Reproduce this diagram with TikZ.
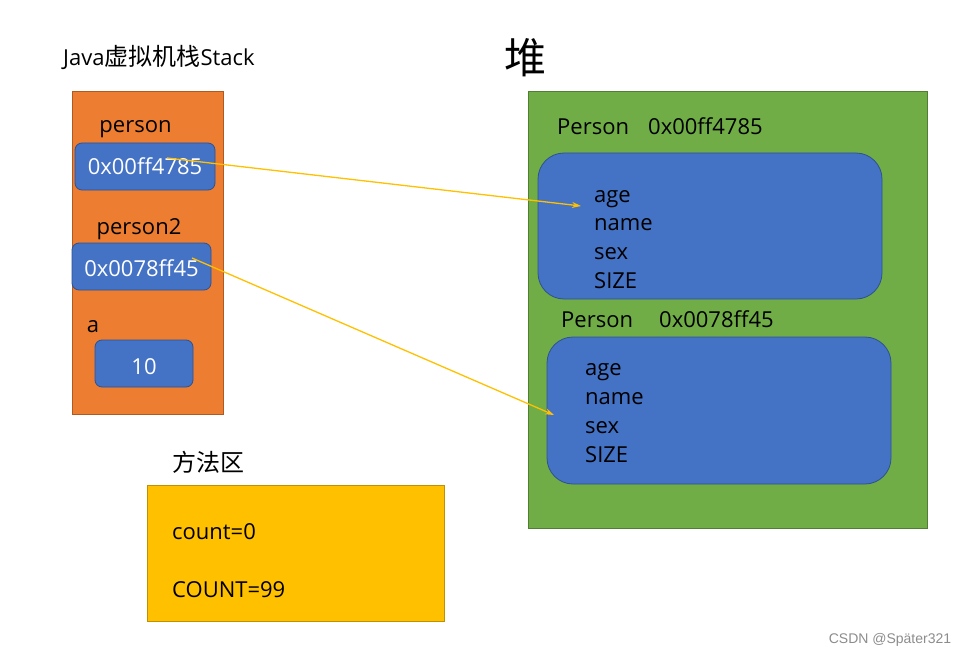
\documentclass[tikz,border=0pt]{standalone}
\usepackage{fontspec}
\setmainfont{Open Sans}
\newfontfamily\cjk{Noto Sans CJK SC}
\usetikzlibrary{arrows.meta,positioning}
\definecolor{stackorange}{HTML}{ED7D31}
\definecolor{stackedge}{HTML}{AE5A21}
\definecolor{cellblue}{HTML}{4472C4}
\definecolor{celledge}{HTML}{2F528F}
\definecolor{heapgreen}{HTML}{70AD47}
\definecolor{heapedge}{HTML}{507E32}
\definecolor{methodgold}{HTML}{FFC000}
\definecolor{methodedge}{HTML}{BF9000}
\tikzset{
  txt/.style={inner sep=0pt,anchor=base,font=\fontsize{22}{26}\selectfont},
  ltxt/.style={txt,anchor=base west},
  cell/.style={draw=celledge,fill=cellblue,rounded corners=7pt,line width=0.8pt},
  objbox/.style={draw=celledge,fill=cellblue,rounded corners=26pt,line width=0.8pt},
  ref/.style={draw=methodgold,line width=1.3pt,-{Stealth[length=9pt,width=6pt]}}
}
\begin{document}
\begin{tikzpicture}[x=1pt,y=-1pt]
  \useasboundingbox (0,0) rectangle (969,658);
  % stack
  \node[ltxt] (stacktitle) at (63,66) {Java{\fontsize{24}{26}\cjk 虚拟机栈}Stack};
  \draw[draw=stackedge,fill=stackorange,line width=0.8pt] (72,91) rectangle (223,414);
  \node[txt] (lperson) at (135.5,133) {person};
  \draw[cell] (75,143) rectangle (215,190);
  \node[txt,text=white] (person) at (145,175) {0x00ff4785};
  \node[txt] (lperson2) at (139,234) {person2};
  \draw[cell] (72,243) rectangle (211,290);
  \node[txt,text=white] (person2) at (141.5,276) {0x0078ff45};
  \node[txt] (la) at (93,332) {a};
  \draw[cell] (95,340) rectangle (193,387);
  \node[txt,text=white] (a) at (144,374) {10};
  % method area
  \node[ltxt,font=\fontsize{24}{26}\cjk] (methodtitle) at (172,471) {方法区};
  \draw[draw=methodedge,fill=methodgold,line width=0.8pt] (147,485) rectangle (444,621);
  \node[ltxt] (count) at (172,539) {count=0};
  \node[ltxt] (COUNT) at (172,597) {COUNT=99};
  % heap
  \node[txt,font=\fontsize{42}{48}\cjk] (heaptitle) at (525,74) {堆};
  \draw[draw=heapedge,fill=heapgreen,line width=0.8pt] (528,91) rectangle (927,528);
  \node[ltxt] (h1) at (557,135) {Person};
  \node[ltxt] (h1addr) at (648,135) {0x00ff4785};
  \draw[objbox] (538,153) rectangle (882,299);
  \foreach \f [count=\i from 0] in {age,name,sex,SIZE}
    \node[ltxt] (oa\i) at (594,{202+28.7*\i}) {\f};
  \node[ltxt] (h2) at (561,327) {Person};
  \node[ltxt] (h2addr) at (659,327) {0x0078ff45};
  \draw[objbox] (547,337) rectangle (891,484);
  \foreach \f [count=\i from 0] in {age,name,sex,SIZE}
    \node[ltxt] (ob\i) at (585,{375+29*\i}) {\f};
  % references
  \coordinate (p1out) at (167,158);
  \coordinate (o1in) at (581,206);
  \coordinate (p2out) at (192,258);
  \coordinate (o2in) at (554,415);
  \draw[ref] (p1out) -- (o1in);
  \draw[ref] (p2out) -- (o2in);
  \node[inner sep=0pt,text=black!45,font=\fontsize{14}{16}\selectfont\fontspec{Liberation Sans}] (mark) at (890,640) {CSDN @Später321};
\end{tikzpicture}
\end{document}
